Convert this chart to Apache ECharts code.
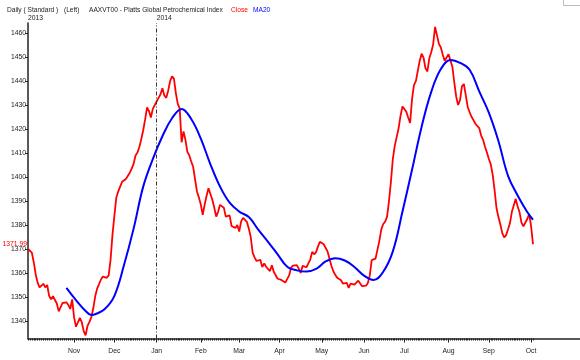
<!DOCTYPE html>
<html><head><meta charset="utf-8">
<script src="https://cdn.jsdelivr.net/npm/echarts@6/dist/echarts.min.js"></script>
<style>html,body{margin:0;padding:0;background:#fff}#c{width:580px;height:360px}</style>
</head><body><div id="c"></div>
<script>
// Trading days (weekdays) from 2013-09-30 to 2014-10-02
const firstDay = '2013-09-30';
const lastDay = '2014-10-02';
const monthNames = ['Jan','Feb','Mar','Apr','May','Jun','Jul','Aug','Sep','Oct','Nov','Dec'];
const lastCloseLabel = '1371.99';

// Close values, one per trading day
const closeValues = [
1370,1369.5,1368.5,1364.5,1359.5,1356,1354,1354.5,1355.5,1354,
1355,1350.5,1349,1350.3,1349.5,1347.3,1344,1344.5,1347.5,1347.3,
1347.8,1346.7,1345,1349,1341.5,1337.6,1337.2,1341.3,1339.5,1335.8,
1334,1338,1339.6,1341.6,1345.3,1350.3,1353.5,1354,1357.3,1358.5,
1358,1358,1359,1365.5,1376,1384,1391.5,1394,1396,1398,
1398.7,1399.2,1399.8,1401.8,1403.5,1405.5,1409,1410.2,1412.5,1415.8,
1419.5,1424,1429,1427.5,1424.8,1428.4,1428,1431.5,1433,1434.5,
1437,1434,1433,1436,1440,1442,1441,1435,1430.5,1428.5,
1414.5,1419,1415.5,1410.5,1409,1406.5,1404.3,1399,1394,1391.5,
1388.5,1384.2,1388.5,1392.2,1395.3,1396,1390.5,1387.3,1383.5,1385.5,
1388.4,1388.8,1387.2,1383.5,1383,1384,1379.6,1379,1378.8,1380,
1377.3,1381.5,1383,1382.7,1381.3,1378.5,1375,1368.5,1366.5,1365,
1365.3,1365.5,1362.5,1364,1362.6,1363,1360.8,1363.2,1360.5,1360.5,
1357.6,1357.5,1357.1,1356.8,1356,1355.8,1359,1362.2,1363.1,1363.7,
1363.3,1361.8,1360,1363,1363,1362.4,1364,1365.6,1368.8,1367.8,
1368.7,1371,1373,1372.4,1372,1371.2,1369,1366,1363,1360.7,
1359.3,1358,1358.3,1357,1355.6,1355.3,1355.9,1353.8,1355.6,1355.2,
1355.2,1355.9,1356.8,1356,1354.5,1354.1,1354.7,1355.8,1359,1365.4,
1365.6,1366,1366,1373.5,1378.2,1380.4,1381.4,1383.5,1390,1398,
1407.5,1413,1412.2,1420.3,1425.5,1429.4,1428.4,1427.2,1424.8,1422.5,
1432.5,1438.3,1440,1440.4,1448.5,1451.4,1449.8,1445.3,1444,1449.5,
1452,1455.3,1462.6,1462,1455.5,1454,1451,1448.5,1448,1451.2,
1450.6,1446,1439.5,1433.5,1430,1432.1,1437.8,1438.8,1434,1429.2,
1427,1425.1,1423.7,1422.2,1421.4,1420.4,1417.3,1415.5,1412.6,1410.2,
1407.5,1405.3,1401,1394.5,1387,1383.3,1380.2,1376.6,1374.8,1375.8,
1378.2,1380.8,1385.5,1388.2,1390.9,1387.7,1385.3,1381,1379.5,1379,
1382.5,1384.6,1379.5,1371.99
];

// MA20 read at selected trading-day positions (index into trading days)
const maIndex = [20,25,30,33,35,40,45,50,55,60,65,70,75,80,85,90,95,100,105,110,115,120,125,130,135,140,145,150,155,160,165,170,175,180,185,190,195,200,205,210,215,220,225,230,235,240,245,250,255,260,263];
const maValues = [1353.8,1348.7,1344.2,1342.5,1342.8,1345,1350.5,1363.3,1378.5,1396,1407.5,1417,1424.5,1428.4,1424.2,1416,1405.3,1396,1389.3,1385.6,1383.3,1378,1373,1367.8,1362.6,1361.1,1360.6,1361.7,1364.8,1366.2,1365.2,1362.5,1358.9,1357.1,1360.5,1369,1385.5,1403,1421,1435.5,1445,1448.8,1447.6,1444.7,1435.7,1426.8,1415,1400.5,1392.3,1385.4,1382.2];

const dates = [];
for (let d = new Date(firstDay + 'T00:00:00Z'); d <= new Date(lastDay + 'T00:00:00Z'); d.setUTCDate(d.getUTCDate() + 1)) {
  const w = d.getUTCDay();
  if (w !== 0 && w !== 6) dates.push(d.toISOString().slice(0, 10));
}
const monthStart = new Set();
const yearStart = new Set([0]);
for (let i = 1; i < dates.length; i++) {
  if (dates[i].slice(5, 7) !== dates[i - 1].slice(5, 7) && i > 5) monthStart.add(i);
  if (dates[i].slice(0, 4) !== dates[i - 1].slice(0, 4)) yearStart.add(i);
}
const yearLineDate = dates[[...yearStart][1]];

const FONT = 'Liberation Sans';
const TF = '6.6px "Liberation Sans"';
const TXT = '#222';
const chart = echarts.init(document.getElementById('c'), null, {renderer: 'canvas'});
chart.setOption({
  animation: false,
  backgroundColor: '#fff',
  textStyle: {fontFamily: FONT},
  graphic: [
    {type: 'text', left: 7, top: 7, style: {text: 'Daily ( Standard )', font: TF, fill: TXT}},
    {type: 'text', left: 64, top: 7, style: {text: '(Left)', font: TF, fill: TXT}},
    {type: 'text', left: 89, top: 7, style: {text: 'AAXVT00 - Platts Global Petrochemical Index', font: TF, fill: TXT}},
    {type: 'text', left: 231, top: 7, style: {text: 'Close', font: TF, fill: '#ff0000'}},
    {type: 'text', left: 253, top: 7, style: {text: 'MA20', font: TF, fill: '#0000ff'}},
    {type: 'polyline', shape: {points: [[563.5, 0], [563.5, 5.5], [580, 5.5]]}, style: {stroke: '#bbb', lineWidth: 1, fill: null}}
  ],
  grid: [
    {left: 28, right: 47, top: 23, bottom: 21.5},
    {left: 28, right: 0, top: 23, bottom: 21.5}
  ],
  xAxis: [
    {type: 'category', gridIndex: 0, data: dates, boundaryGap: false, position: 'bottom',
     axisLine: {show: false}, axisTick: {show: true, interval: 0, length: 2, lineStyle: {color: TXT}},
     axisLabel: {show: false}, splitLine: {show: false}},
    {type: 'category', gridIndex: 0, data: dates, boundaryGap: false, position: 'bottom',
     axisLine: {show: false},
     axisTick: {show: true, interval: (i) => monthStart.has(i), length: 4, lineStyle: {color: TXT}},
     axisLabel: {show: true, interval: (i) => monthStart.has(i), formatter: (v) => monthNames[+v.slice(5, 7) - 1],
       fontSize: 6.8, color: TXT, margin: 9, fontFamily: FONT},
     splitLine: {show: false}},
    {type: 'category', gridIndex: 0, data: dates, boundaryGap: false, position: 'top',
     axisLine: {show: false}, axisTick: {show: false},
     axisLabel: {show: true, interval: (i) => yearStart.has(i), formatter: (v) => v.slice(0, 4),
       align: 'left', fontSize: 6.8, color: TXT, margin: 1, fontFamily: FONT},
     splitLine: {show: false}},
    {type: 'value', gridIndex: 1, min: 0, max: 1,
     axisLine: {show: true, onZero: false, lineStyle: {color: TXT, width: 1.5}},
     axisTick: {show: false}, axisLabel: {show: false}, splitLine: {show: false}}
  ],
  yAxis: [
    {type: 'value', gridIndex: 0, min: 1332.7, max: 1464.2, splitNumber: 13, minInterval: 10, maxInterval: 10,
     axisLine: {show: true, lineStyle: {color: TXT, width: 1.5}},
     axisTick: {show: true, length: 3, lineStyle: {color: TXT}},
     axisLabel: {fontSize: 6.8, color: TXT, margin: 2, showMinLabel: false, showMaxLabel: false, fontFamily: FONT,
       formatter: (v) => String(v)},
     splitLine: {show: false}},
    {type: 'value', gridIndex: 1, show: false, min: 0, max: 1}
  ],
  series: [
    {name: 'Close', type: 'line', xAxisIndex: 0, yAxisIndex: 0, data: closeValues,
     symbol: 'none', lineStyle: {color: '#ff0000', width: 1.8}, itemStyle: {color: '#ff0000'},
     markLine: {silent: true, symbol: 'none', animation: false,
       data: [
         {xAxis: yearLineDate, lineStyle: {color: '#333', width: 1, type: [4, 2, 1, 2]}, label: {show: false}},
         {yAxis: closeValues[closeValues.length - 1], lineStyle: {color: 'rgba(0,0,0,0)', width: 0},
          label: {show: true, position: 'start', formatter: lastCloseLabel, color: '#ff0000', fontSize: 6.8, distance: 1, fontFamily: FONT}}
       ]}},
    {name: 'MA20', type: 'line', xAxisIndex: 0, yAxisIndex: 0,
     data: maIndex.map((i, k) => [dates[i], maValues[k]]),
     smooth: 0.4, symbol: 'none', lineStyle: {color: '#0000ff', width: 2}, itemStyle: {color: '#0000ff'}}
  ]
});
</script>
</body></html>
